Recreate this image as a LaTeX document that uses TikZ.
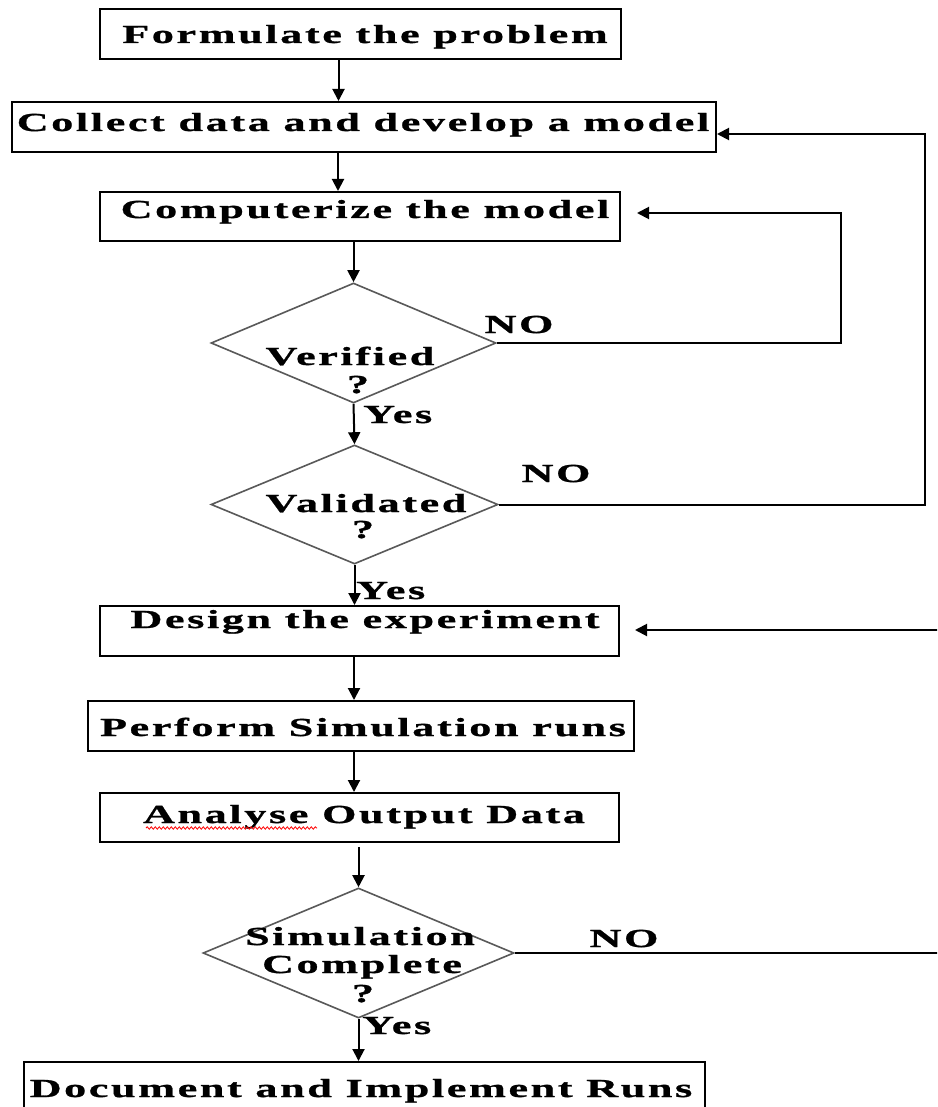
\documentclass[tikz,border=0pt]{standalone}
\usepackage{fontspec}
\setmainfont{Liberation Serif}[FakeStretch=1.7,LetterSpace=10,FakeBold=1]
\usetikzlibrary{arrows.meta,shapes.geometric,decorations.pathmorphing}
\begin{document}
\begin{tikzpicture}[x=1pt,y=-1pt,
  box/.style={draw=black,line width=2pt,minimum height=50pt,inner sep=0pt},
  dec/.style={draw=black!65,line width=1.6pt,diamond,inner sep=0pt},
  lbl/.style={anchor=base,inner sep=0pt,font=\fontsize{26}{28}\selectfont\bfseries},
  conn/.style={line width=2pt,-{Triangle[length=12pt,width=12pt]}},
  plain/.style={line width=2pt}]
\useasboundingbox (0,0) rectangle (937,1107);
\clip (0,0) rectangle (937,1107);
\fill[white] (0,0) rectangle (937,1107);

% boxes
\node[box,minimum width=521pt] (b1) at (360.5,34) {};
\node[box,minimum width=704pt] (b2) at (364,127) {};
\node[box,minimum width=520pt,minimum height=49pt] (b3) at (360,216.5) {};
\node[box,minimum width=519pt] (b4) at (359.5,631) {};
\node[box,minimum width=546pt] (b5) at (361,726) {};
\node[box,minimum width=519pt,minimum height=49pt] (b6) at (359.5,817.5) {};
\node[box,minimum width=681pt] (b7) at (364.5,1087) {};

% diamonds
\node[dec,minimum width=285pt,minimum height=120pt] (d1) at (353.5,343) {};
\node[dec,minimum width=287pt,minimum height=119pt] (d2) at (354.5,504.5) {};
\node[dec,minimum width=311pt,minimum height=130pt] (d3) at (358.5,953) {};

% box texts
\node[lbl] (t1) at (365,43) {Formulate the problem};
\node[lbl] (t2) at (363,131) {Collect data and develop a model};
\node[lbl] (t3) at (365,218) {Computerize the model};
\node[lbl] (t4) at (365,628) {Design the experiment};
\node[lbl] (t5) at (363,736) {Perform Simulation runs};
\node[lbl] (t6) at (364,823) {Analyse Output Data};
\node[lbl] (t7) at (361,1097) {Document and Implement Runs};
\draw[red,line width=0.8pt,decorate,decoration={snake,amplitude=1.2pt,segment length=4pt}] (146,828) -- (317,828);

% diamond texts
\node[lbl] (q1a) at (350,365) {Verified};
\node[lbl] (q1b) at (358,393) {?};
\node[lbl] (q2a) at (366,512) {Validated};
\node[lbl] (q2b) at (363,538) {?};
\node[lbl] (q3a) at (360,945) {Simulation};
\node[lbl] (q3b) at (362,973) {Complete};
\node[lbl] (q3c) at (363,1002) {?};

% branch labels
\node[lbl] (no1) at (519,333) {NO};
\node[lbl] (no2) at (556,482) {NO};
\node[lbl] (no3) at (624,947) {NO};
\node[lbl,anchor=base west] (y1) at (363,423) {Yes};
\node[lbl,anchor=base west] (y2) at (356,599) {Yes};
\node[lbl,anchor=base west] (y3) at (362,1034) {Yes};

% main flow
\draw[conn] ([xshift=-22pt]b1.south) -- ([xshift=-22pt]b1.south |- b2.north);
\draw[conn] ([xshift=-26pt]b2.south) -- ([xshift=-26pt]b2.south |- b3.north);
\draw[conn] (d1.north |- b3.south) -- (d1.north);
\draw[conn] (d1.south) -- (d2.north);
\draw[conn] (d2.south) -- (d2.south |- b4.north);
\draw[conn] ([xshift=-5.5pt]b4.south) -- ([xshift=-5.5pt]b4.south |- b5.north);
\draw[conn] ([xshift=-7pt]b5.south) -- ([xshift=-7pt]b5.south |- b6.north);
\draw[conn] ([yshift=-4pt]b6.south -| d3.north) -- (d3.north);
\draw[conn] (d3.south) -- (d3.south |- b7.north);

% loops
\draw[conn] (d1.east) -- (841,343) |- ([xshift=16pt,yshift=3.5pt]b3.east);
\draw[conn] (d2.east) -- (925,504.5) |- ([yshift=-7pt]b2.east);
\draw[conn] (d3.east) -- (965,953) |- ([xshift=15pt,yshift=1pt]b4.east);
\end{tikzpicture}
\end{document}
